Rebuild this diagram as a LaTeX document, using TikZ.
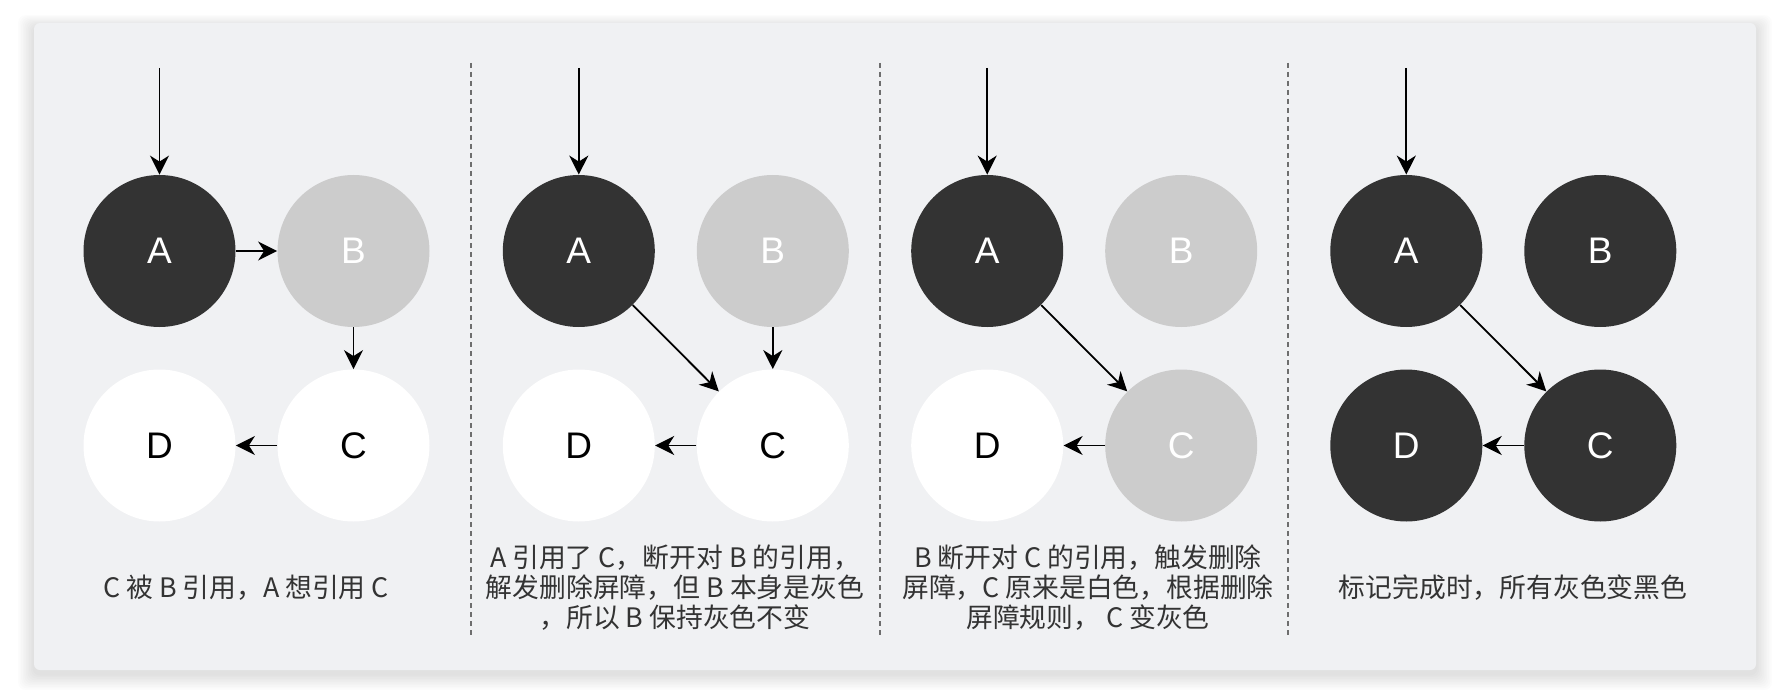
\documentclass[tikz,border=0pt]{standalone}
\usepackage{fontspec}
\setmainfont{Noto Sans CJK SC}
\newfontfamily\letterfont{Liberation Sans}
\usetikzlibrary{arrows.meta}

\definecolor{carddark}{HTML}{333333}
\definecolor{cardgray}{HTML}{CCCCCC}
\definecolor{cardbg}{HTML}{F0F1F3}
\definecolor{captext}{HTML}{333333}
\definecolor{sepline}{HTML}{6E6E6E}

\tikzset{
    obj/.style={circle, inner sep=0pt, minimum size=76pt, font=\letterfont\fontsize{18.5}{20}\selectfont},
    blackobj/.style={obj, fill=carddark, text=white},
    grayobj/.style={obj, fill=cardgray, text=white},
    whiteobj/.style={obj, fill=white, text=black},
    ref/.style={-{Stealth[length=9.5pt, width=9.5pt, inset=3pt]}, line width=0.9pt, black},
    sep/.style={sepline, line width=0.6pt, dash pattern=on 2.5pt off 2pt},
    caption/.style={text=captext, align=center, font=\fontsize{13.4}{15}\selectfont}
}

\begin{document}
\begin{tikzpicture}[x=0.5pt, y=-0.5pt]
        \useasboundingbox (0, 0) rectangle (1784, 690);
        \fill[white] (0, 0) rectangle (1784, 690);
        % soft shadow of the card
        \foreach \s in {1,...,10} {
            \fill[black, opacity=0.012, rounded corners=4pt] ({34-\s*1.6}, {23-\s*1.2+4}) rectangle ({1756+\s*1.6}, {670+\s*1.6+4});
        }
        \fill[cardbg, rounded corners=3pt] (34, 23) rectangle (1756, 670);

        % separators
        \draw[sep] (471, 63) -- (471, 638);
        \draw[sep] (880, 63) -- (880, 638);
        \draw[sep] (1288, 63) -- (1288, 638);

        % panel 1
        \coordinate (top1) at (159.5, 68);
        \node[blackobj] (a1) at (159.5, 251) {A};
        \node[grayobj] (b1) at (353.5, 251) {B};
        \node[whiteobj] (d1) at (159.5, 445.5) {D};
        \node[whiteobj] (c1) at (353.5, 445.5) {C};
        \draw[ref] (top1) -- (a1);
        \draw[ref] (a1) -- (b1);
        \draw[ref] (b1) -- (c1);
        \draw[ref] (c1) -- (d1);
        \node[caption] (t1) at (246, 588) {C 被 B 引用，A 想引用 C};

        % panel 2
        \coordinate (top2) at (578.8, 68);
        \node[blackobj] (a2) at (578.8, 251) {A};
        \node[grayobj] (b2) at (772.8, 251) {B};
        \node[whiteobj] (d2) at (578.8, 445.5) {D};
        \node[whiteobj] (c2) at (772.8, 445.5) {C};
        \draw[ref] (top2) -- (a2);
        \draw[ref] (a2) -- (c2);
        \draw[ref] (b2) -- (c2);
        \draw[ref] (c2) -- (d2);
        \node[caption] (t2) at (675, 588) {A 引用了 C，断开对 B 的引用，\\解发删除屏障，但 B 本身是灰色\\，所以 B 保持灰色不变};

        % panel 3
        \coordinate (top3) at (987.2, 68);
        \node[blackobj] (a3) at (987.2, 251) {A};
        \node[grayobj] (b3) at (1181.2, 251) {B};
        \node[whiteobj] (d3) at (987.2, 445.5) {D};
        \node[grayobj] (c3) at (1181.2, 445.5) {C};
        \draw[ref] (top3) -- (a3);
        \draw[ref] (a3) -- (c3);
        \draw[ref] (c3) -- (d3);
        \node[caption] (t3) at (1088, 588) {B 断开对 C 的引用，触发删除\\屏障，C 原来是白色，根据删除\\屏障规则， C 变灰色};

        % panel 4
        \coordinate (top4) at (1406.3, 68);
        \node[blackobj] (a4) at (1406.3, 251) {A};
        \node[blackobj] (b4) at (1600.3, 251) {B};
        \node[blackobj] (d4) at (1406.3, 445.5) {D};
        \node[blackobj] (c4) at (1600.3, 445.5) {C};
        \draw[ref] (top4) -- (a4);
        \draw[ref] (a4) -- (c4);
        \draw[ref] (c4) -- (d4);
        \node[caption] (t4) at (1513, 588) {标记完成时，所有灰色变黑色};
    \end{tikzpicture}
\end{document}
